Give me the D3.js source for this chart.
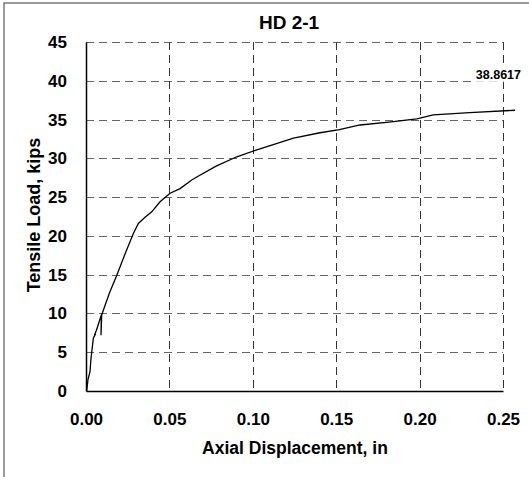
<!DOCTYPE html>
<html>
<head>
<meta charset="utf-8">
<script src="https://cdn.jsdelivr.net/npm/d3@7"></script>
<style>
body { margin: 0; background: #fff; }
text { font-family: "Liberation Sans", Arial, sans-serif; font-weight: bold; }
</style>
</head>
<body>
<script>

const titleText = 'HD 2-1'
const xLabel = 'Axial Displacement, in'
const yLabel = 'Tensile Load, kips'
const peakLabel = '38.8617'

const xTicks = [0, 0.05, 0.10, 0.15, 0.20, 0.25]
const yTicks = [0, 5, 10, 15, 20, 25, 30, 35, 40, 45]

// displacement (in) / load (kips)
const disp = [0.0004, 0.0012, 0.0024, 0.0030, 0.0044, 0.0058, 0.0050, 0.0062, 0.0092, 0.0090, 0.0094,
	0.0140, 0.0184, 0.0240, 0.0284, 0.0314, 0.0354, 0.0394, 0.0444, 0.0504, 0.0564, 0.0634, 0.0664,
	0.0780, 0.0904, 0.1024, 0.1244, 0.1403, 0.1519, 0.1643, 0.1830, 0.1983, 0.2082, 0.2300, 0.2572]
const load = [0.0, 1.5, 2.5, 4.2, 6.8, 7.4, 7.2, 7.8, 9.8, 7.2, 9.8,
	12.6, 14.9, 18.0, 20.3, 21.6, 22.4, 23.1, 24.4, 25.5, 26.1, 27.2, 27.6,
	29.0, 30.2, 31.1, 32.6, 33.3, 33.7, 34.3, 34.7, 35.1, 35.6, 35.9, 36.2]

const margin = { top: 42, left: 86 }
const width = 503 - 86
const height = 391 - 42

const svg = d3.select('body').append('svg')
	.attr('width', 529)
	.attr('height', 477)

// outer frame
svg.append('rect')
	.attr('x', 4).attr('y', 3)
	.attr('width', 540).attr('height', 490)
	.style('fill', 'none')
	.style('stroke', '#7a7a7a')
	.style('stroke-width', 1.5)

const g = svg.append('g')
	.attr('transform', 'translate(' + margin.left + ',' + margin.top + ')')

const x = d3.scaleLinear().domain([0, 0.25]).range([0, width])
const y = d3.scaleLinear().domain([0, 45]).range([height, 0])

// grid
g.selectAll('.hgrid')
	.data(yTicks.slice(1))
	.enter().append('line')
	.attr('x1', 0).attr('x2', width)
	.attr('y1', d => Math.round(y(d)) + 0.5).attr('y2', d => Math.round(y(d)) + 0.5)
	.style('stroke', '#666')
	.style('stroke-dasharray', '8,5')

g.selectAll('.vgrid')
	.data(xTicks.slice(1))
	.enter().append('line')
	.attr('y1', 0).attr('y2', height)
	.attr('x1', d => Math.round(x(d)) + 0.5).attr('x2', d => Math.round(x(d)) + 0.5)
	.style('stroke', '#333')
	.style('stroke-dasharray', '8,5')

const xAxis = d3.axisBottom(x).tickValues(xTicks).tickFormat(d3.format('.2f')).tickSize(0).tickPadding(22)
const yAxis = d3.axisLeft(y).tickValues(yTicks).tickFormat(d3.format('d')).tickSize(0).tickPadding(19)

g.append('g')
	.attr('transform', 'translate(0,' + height + ')')
	.call(xAxis)
	.call(a => a.select('.domain').style('stroke', '#000').style('stroke-width', 1.5))
	.selectAll('text')
	.style('font-size', '17px')
	.style('fill', '#000')

g.append('g')
	.call(yAxis)
	.call(a => a.select('.domain').style('stroke', '#000').style('stroke-width', 1.5))
	.selectAll('text')
	.style('font-size', '17px')
	.style('fill', '#000')

// curve
const line = d3.line()
	.x((d, i) => x(disp[i]))
	.y(d => y(d))

g.append('path')
	.datum(load)
	.attr('d', line)
	.style('fill', 'none')
	.style('stroke', '#000')
	.style('stroke-width', 1.3)

// peak label sits on a white box over the grid
const peakBox = g.append('rect').style('fill', '#fff')
const peak = g.append('text')
	.attr('x', x(0.25) + 18)
	.attr('y', y(40) - 2)
	.style('text-anchor', 'end')
	.style('font-size', '12.5px')
	.text(peakLabel)
const bb = peak.node().getBBox()
peakBox
	.attr('x', bb.x - 2).attr('y', bb.y)
	.attr('width', bb.width + 4).attr('height', bb.height)

svg.append('text')
	.attr('x', 289).attr('y', 29)
	.style('text-anchor', 'middle')
	.style('font-size', '19px')
	.text(titleText)

svg.append('text')
	.attr('x', 295).attr('y', 454)
	.style('text-anchor', 'middle')
	.style('font-size', '17.5px')
	.text(xLabel)

svg.append('text')
	.attr('transform', 'translate(40,' + 215 + ') rotate(-90)')
	.style('text-anchor', 'middle')
	.style('font-size', '18px')
	.text(yLabel)

</script>
</body>
</html>
